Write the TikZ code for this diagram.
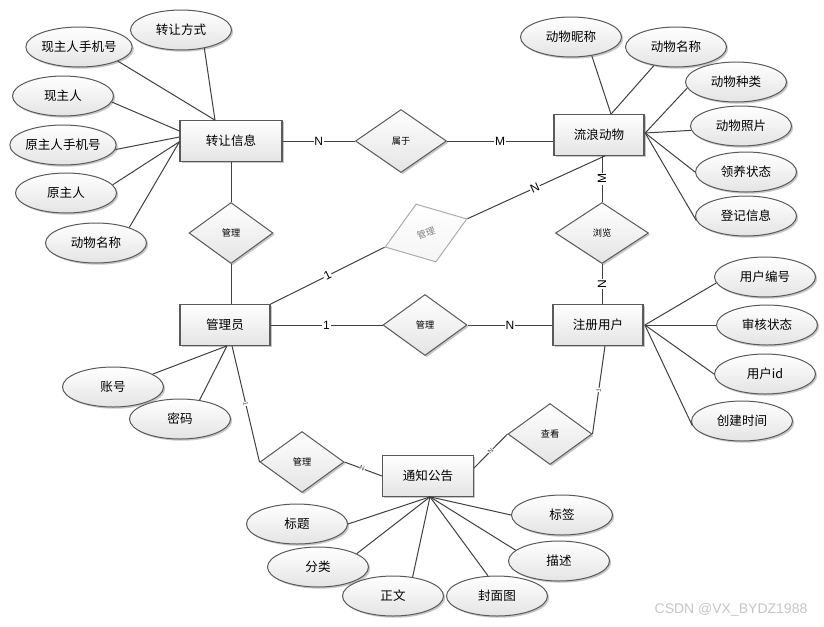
\documentclass[tikz,border=0pt]{standalone}
\usepackage{fontspec}
\setmainfont{Liberation Sans}
\newfontfamily\cjk{Noto Sans CJK SC}
\usetikzlibrary{shapes.geometric,shadows}
\definecolor{edgec}{HTML}{404040}
\definecolor{bdc}{HTML}{5A5A5A}
\definecolor{shc}{HTML}{E4E4E4}
\tikzset{
  myshadow/.style={drop shadow={shadow xshift=1.3pt,shadow yshift=-1.3pt,fill=black,opacity=0.22}},
  ent/.style={rectangle,draw=bdc,line width=0.8pt,top color=white,bottom color=shc,
    minimum width=67.5pt,minimum height=30.5pt,inner sep=0pt,
    font=\cjk\fontsize{9.4}{10}\selectfont,myshadow},
  relbase/.style={diamond,draw=bdc,line width=0.75pt,top color=white,bottom color=shc,
    inner sep=0pt,minimum width=63pt,minimum height=45.75pt,
    font=\cjk\fontsize{6.9}{8}\selectfont},
  rel/.style={relbase,myshadow},
  attr/.style={ellipse,draw=bdc,line width=0.75pt,top color=white,bottom color=shc,
    minimum width=75.75pt,minimum height=30pt,inner sep=0pt,
    font=\cjk\fontsize{9.4}{10}\selectfont,myshadow},
  ln/.style={draw=edgec,line width=0.75pt},
  card/.style={fill=white,inner sep=0.6pt,font=\fontsize{9}{10}\selectfont},
  tinycard/.style={fill=white,inner sep=0.2pt,font=\fontsize{5}{5.5}\selectfont,text=black!70},
}
\begin{document}
\begin{tikzpicture}[x=0.75pt,y=-0.75pt]
\useasboundingbox[fill=white] (0,0) rectangle (824,626);

% entities
\node[ent,minimum width=76.5pt] (zr) at (231,141) {转让信息};
\node[ent] (ll) at (599,135) {流浪动物};
\node[ent] (gly) at (225,325) {管理员};
\node[ent] (zc) at (598,325) {注册用户};
\node[ent,minimum width=68.25pt] (tz) at (428,476) {通知公告};

% relationships
\node[rel,minimum width=68.25pt,minimum height=47.25pt] (sy) at (401,141) {属于};
\node[rel] (gla) at (231,233) {管理};
\node[relbase,draw=gray!65,top color=white,bottom color=gray!8,text=gray,rotate=19,
      minimum width=65pt,minimum height=46pt] (glb) at (426,233) {管理};
\node[rel,minimum width=69.75pt] (lan) at (602,233) {浏览};
\node[rel] (glc) at (425,325) {管理};
\node[rel] (gld) at (302,462) {管理};
\node[rel] (ck) at (550,434) {查看};

% attributes of 转让信息
\node[attr] (zrfs) at (181,30) {转让方式};
\node[attr] (xzsj) at (79,47) {现主人手机号};
\node[attr] (xzr) at (63,96) {现主人};
\node[attr] (yzsj) at (63,145) {原主人手机号};
\node[attr] (yzr) at (66,193) {原主人};
\node[attr] (dwmca) at (96,243) {动物名称};

% attributes of 流浪动物
\node[attr] (dwnc) at (571,37) {动物昵称};
\node[attr] (dwmcb) at (676,47) {动物名称};
\node[attr] (dwzl) at (736,82) {动物种类};
\node[attr] (dwzp) at (741,126) {动物照片};
\node[attr] (lyzt) at (746,172) {领养状态};
\node[attr] (djxx) at (746,216) {登记信息};

% attributes of 注册用户
\node[attr] (yhbh) at (765,277) {用户编号};
\node[attr] (shzt) at (767,325) {审核状态};
\node[attr] (yhid) at (765,374) {用户id};
\node[attr] (cjsj) at (742,421) {创建时间};

% attributes of 管理员
\node[attr] (zh) at (113,387) {账号};
\node[attr] (mm) at (180,419) {密码};

% attributes of 通知公告
\node[attr] (bt) at (297,524) {标题};
\node[attr] (fl) at (318,567) {分类};
\node[attr] (zw) at (393,596) {正文};
\node[attr] (fmt) at (497,596) {封面图};
\node[attr] (ms) at (559,561) {描述};
\node[attr] (bq) at (562,515) {标签};

% convergence points
\coordinate (zrT) at ([xshift=-12pt]zr.north);
\coordinate (zrL1) at ([yshift=7.5pt]zr.west);
\coordinate (zrL2) at ([yshift=3pt]zr.west);
\coordinate (zrL3) at ([yshift=-0.5pt]zr.west);
\coordinate (llT) at ([xshift=9pt]ll.north);
\coordinate (llR) at ([xshift=0.5pt,yshift=1.5pt]ll.east);
\coordinate (llB) at ([xshift=4.5pt]ll.south);
\coordinate (zcR) at ([xshift=1pt]zc.east);
\coordinate (zcB) at ([xshift=5.25pt]zc.south);
\coordinate (glyB) at ([xshift=1.5pt]gly.south);
\coordinate (glyB2) at ([xshift=5.25pt]gly.south);
\coordinate (tzB) at ([xshift=1.5pt]tz.south);
\coordinate (tzR) at ([yshift=6pt]tz.east);

% attribute links
\draw[ln] (zrfs.-38) -- (zrT);
\draw[ln] (xzsj.-20) -- (zrT);
\draw[ln] (xzr.-7) -- (zrL1);
\draw[ln] (yzsj.-5) -- (zrL2);
\draw[ln] (yzr.10) -- (zrL3);
\draw[ln] (dwmca.25) -- (zrL3);

\draw[ln] (dwnc.-42) -- (llT);
\draw[ln] (dwmcb.-140) -- (llT);
\draw[ln] (dwzl.187) -- (llR);
\draw[ln] (dwzp.185) -- (llR);
\draw[ln] (lyzt.180) -- (llR);
\draw[ln] (djxx.185) -- (llR);

\draw[ln] (yhbh.187) -- (zcR);
\draw[ln] (shzt.180) -- (zcR);
\draw[ln] (yhid.180) -- (zcR);
\draw[ln] (cjsj.185) -- (zcR);

\draw[ln] (zh.18) -- (glyB);
\draw[ln] (mm.44) -- (glyB);

\draw[ln] (bt.0) -- (tzB);
\draw[ln] (fl.19) -- (tzB);
\draw[ln] (zw.44) -- (tzB);
\draw[ln] (fmt.114) -- (tzB);
\draw[ln] (ms.166) -- (tzB);
\draw[ln] (bq.180) -- (tzB);

% relationship links
\draw[ln] (zr.east) -- node[card]{N} (sy.west);
\draw[ln] (sy.east) -- node[card]{M} (sy.east -| ll.west);
\draw[ln] (zr.south) -- (gla.north);
\draw[ln] (gla.south) -- (gla.south |- gly.north);
\draw[ln] (gly.north east) -- node[card,sloped]{1} (glb.west);
\draw[ln] (glb.east) -- node[card,sloped,pos=0.49]{N} (llB);
\draw[ln] (lan.north |- ll.south) -- node[card,rotate=90]{M} (lan.north);
\draw[ln] (lan.south) -- node[card,rotate=90]{N} (lan.south |- zc.north);
\draw[ln] (gly.east) -- node[card]{1} (glc.west);
\draw[ln] (glc.east) -- node[card]{N} (zc.west);
\draw[ln] (glyB2) -- node[tinycard,sloped]{1} (gld.west);
\draw[ln] (gld.east) -- node[tinycard,sloped,pos=0.47]{N} (tz.west);
\draw[ln] (tzR) -- node[tinycard,sloped]{N} (ck.west);
\draw[ln] (ck.east) -- node[tinycard,sloped]{1} (zcB);

% watermark
\node[font=\fontsize{10.5}{11}\selectfont,text=gray!45] (wm) at (731,610) {CSDN @VX\_BYDZ1988};
\end{tikzpicture}
\end{document}
